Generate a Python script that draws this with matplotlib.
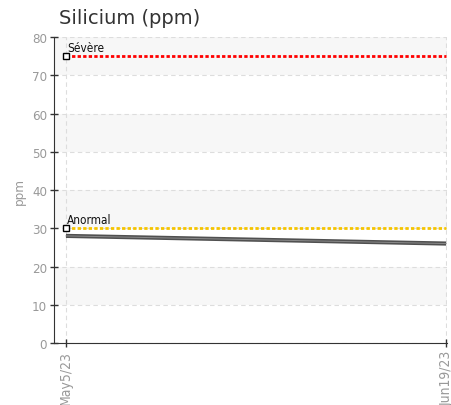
import numpy as np
import matplotlib
matplotlib.use('Agg')
import matplotlib.pyplot as plt

# silicium readings
dates = ['May5/23', 'Jun19/23']
days = [0, 45]
silicium = [28, 26]

# limits
thresholds = [75, 30]
threshold_names = ['Sévère', 'Anormal']
threshold_colors = ['#ff0000', '#f5c400']

yticks = [0, 10, 20, 30, 40, 50, 60, 70, 80]

narrow = ['DejaVu Sans']

fig = plt.figure(figsize=(4.51, 4.06), dpi=100)
ax = fig.add_axes([0.1197, 0.1527, 0.8714, 0.7537])

# alternating bands
for lo in range(10, 80, 20):
    ax.axhspan(lo, lo + 10, color='#f7f7f7', zorder=0, lw=0)

for y in yticks:
    ax.axhline(y, color='#dddddd', ls=(0, (4, 3)), lw=0.8, zorder=1)
for d in days:
    ax.axvline(d, color='#dddddd', ls=(0, (4, 3)), lw=0.8, zorder=1)

for t, name, c in zip(thresholds, threshold_names, threshold_colors):
    ax.plot([days[0], days[-1]], [t, t], color=c, ls=(0, (1.2, 0.8)), lw=2, zorder=3)
    ax.plot([days[0]], [t], marker='s', ms=4.5, mfc='white', mec='black', mew=1, zorder=5)
    ax.text(days[0] + 0.1, t + 1.3, name, fontsize=8.5, family=narrow, stretch='condensed',
            color='#111111', zorder=6)

ax.plot(days, silicium, color='#505050', lw=3, zorder=4, solid_capstyle='butt')
ax.plot(days, silicium, color='#8a8a8a', lw=0.7, zorder=4)

ax.set_xlim(-1.42, 45.1)
ax.set_ylim(0, 80)
ax.set_yticks(yticks)
ax.set_xticks(days)
ax.set_xticklabels(dates, rotation=90, family=narrow, stretch='condensed', fontsize=10, color='#999999')
for lab in ax.get_yticklabels():
    lab.set_family(narrow)
    lab.set_stretch('condensed')
    lab.set_fontsize(9.5)
    lab.set_color('#999999')
ax.tick_params(direction='inout', length=6, width=1, color='#333333', pad=2)
ax.spines['top'].set_visible(False)
ax.spines['right'].set_visible(False)
ax.spines['left'].set_color('#333333')
ax.spines['bottom'].set_color('#333333')
ax.set_ylabel('ppm', family=narrow, stretch='condensed', fontsize=9.5, color='#999999', labelpad=4)

fig.text(59 / 451, 1 - 18 / 406, 'Silicium (ppm)', fontsize=14, color='#333333', va='center', ha='left')

fig.savefig('out.png', dpi=100)
